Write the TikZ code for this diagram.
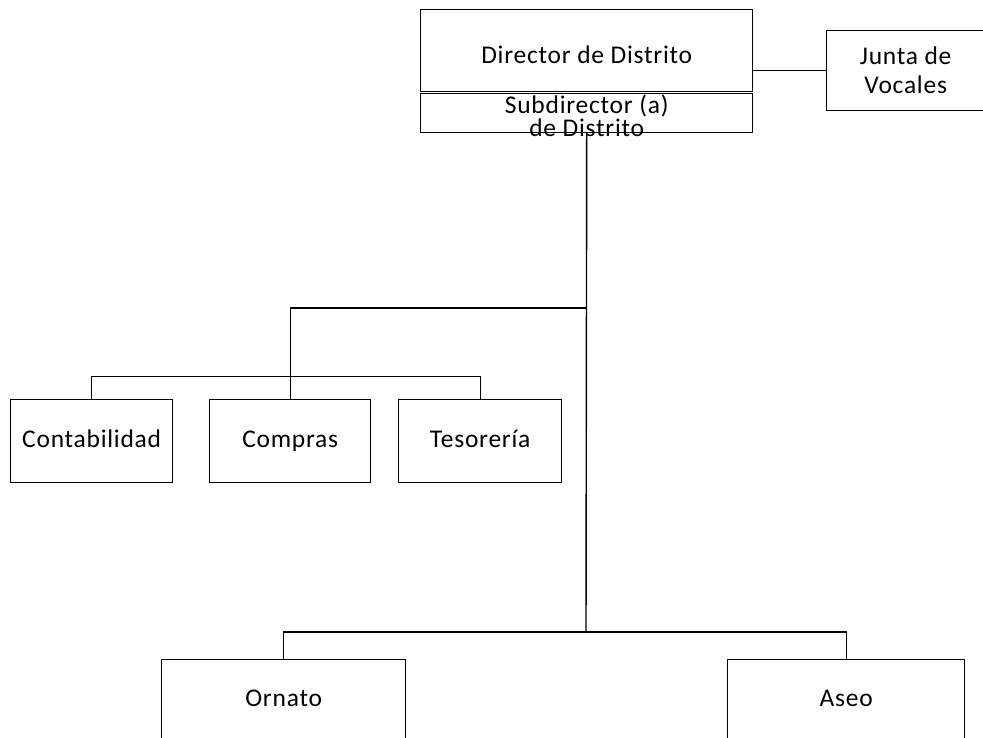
\documentclass[tikz,border=0pt]{standalone}
\usepackage{fontspec}
\setmainfont[LetterSpace=3]{Carlito}
\begin{document}
\begin{tikzpicture}[font=\fontsize{14.5}{15}\selectfont,line width=0.8pt]
\tikzset{caja/.style={anchor=south west,draw,align=center,inner sep=0pt},
         unalinea/.style={text height=10.2pt,text depth=2pt}}
\useasboundingbox (0,0) rectangle (19.66,14.76);
\node[caja,unalinea,text height=17.6pt,minimum width=6.64cm,minimum height=1.64cm] (director) at (8.4, 12.92) {Director de Distrito};
\node[caja,minimum width=6.64cm,minimum height=0.78cm,
      label={[align=center,inner sep=0pt,yshift=-1.5pt,font=\fontsize{14.5}{7.6}\selectfont]center:Subdirector (a)\\de Distrito}] (subdirector) at (8.4, 12.1) {};
\node[caja,minimum width=3.16cm,minimum height=1.6cm,font=\fontsize{14.5}{16.5}\selectfont] (junta) at (16.52,12.54) {Junta de\\Vocales};
\node[caja,unalinea,minimum width=3.24cm,minimum height=1.66cm] (contabilidad) at (0.2, 5.1) {Contabilidad};
\node[caja,unalinea,minimum width=3.22cm,minimum height=1.66cm] (compras) at (4.18,5.1) {Compras};
\node[caja,unalinea,minimum width=3.26cm,minimum height=1.66cm] (tesoreria) at (7.96,5.1) {Tesorería};
\node[caja,unalinea,minimum width=4.88cm,minimum height=1.6cm] (ornato) at (3.22,-0.04) {Ornato};
\node[caja,unalinea,minimum width=4.74cm,minimum height=1.6cm] (aseo) at (14.54,-0.04) {Aseo};
\coordinate (rama1) at (11.72,8.6);
\coordinate (rama2) at (11.72,2.12);
\draw (director.east |- junta.west) -- (junta.west);
\draw (subdirector.south) -- (rama2);
\draw (rama1) -| (compras.north);
\draw (contabilidad.north) |- ([yshift=0.44cm]compras.north) -| (tesoreria.north);
\draw (ornato.north) |- (rama2) -| (aseo.north);
% \draw (compras.north) -- ++(0,0.44);
\end{tikzpicture}
\end{document}
